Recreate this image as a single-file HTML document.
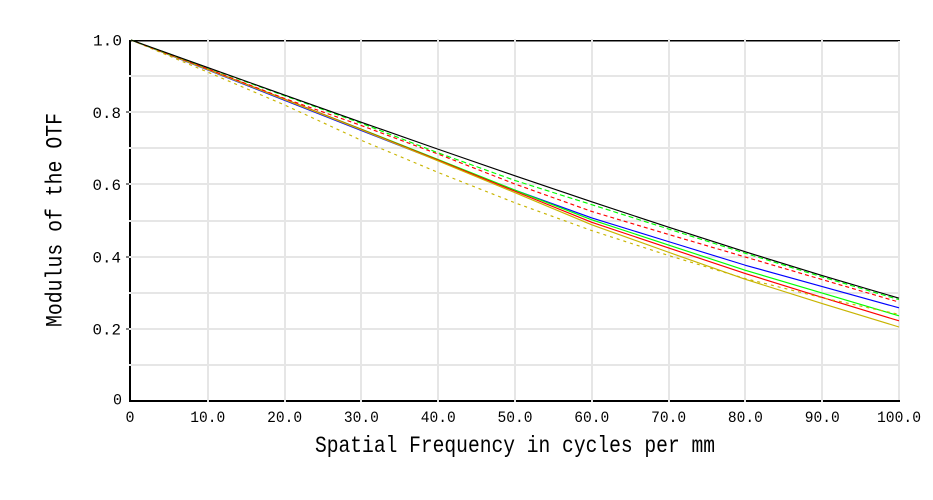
<!DOCTYPE html>
<html>
<head>
<meta charset="utf-8">
<style>
  html, body { margin: 0; padding: 0; background: #ffffff; }
  body { width: 933px; height: 500px; overflow: hidden; }
  svg { display: block; }
  text { font-family: "Liberation Mono", "DejaVu Sans Mono", monospace; fill: #000; }
</style>
</head>
<body>
<svg width="933" height="500" viewBox="0 0 933 500" xmlns="http://www.w3.org/2000/svg">
  <rect x="0" y="0" width="933" height="500" fill="#ffffff"/>

  <!-- axes -->
  <g shape-rendering="crispEdges">
    <line x1="130" y1="40" x2="130" y2="402" stroke="#000" stroke-width="2"/>
    <line x1="129" y1="401" x2="900" y2="401" stroke="#000" stroke-width="2"/>
    <line x1="129" y1="40.5" x2="900" y2="40.5" stroke="#000" stroke-width="1.5"/>
  </g>

  <!-- grid -->
  <g stroke="#e6e6e6" stroke-width="2" shape-rendering="crispEdges">
    <line x1="208" y1="39" x2="208" y2="402"/>
    <line x1="285" y1="39" x2="285" y2="402"/>
    <line x1="361" y1="39" x2="361" y2="402"/>
    <line x1="438" y1="39" x2="438" y2="402"/>
    <line x1="515" y1="39" x2="515" y2="402"/>
    <line x1="592" y1="39" x2="592" y2="402"/>
    <line x1="669" y1="39" x2="669" y2="402"/>
    <line x1="745" y1="39" x2="745" y2="402"/>
    <line x1="822" y1="39" x2="822" y2="402"/>
    <line x1="899" y1="41" x2="899" y2="400"/>
    <line x1="129" y1="365" x2="899" y2="365"/>
    <line x1="129" y1="329" x2="899" y2="329"/>
    <line x1="129" y1="293" x2="899" y2="293"/>
    <line x1="129" y1="257" x2="899" y2="257"/>
    <line x1="129" y1="221" x2="899" y2="221"/>
    <line x1="129" y1="184" x2="899" y2="184"/>
    <line x1="129" y1="148" x2="899" y2="148"/>
    <line x1="129" y1="112" x2="899" y2="112"/>
    <line x1="129" y1="76" x2="899" y2="76"/>
  </g>
  <g shape-rendering="crispEdges">
    <line x1="126" y1="112" x2="129" y2="112" stroke="#000" stroke-width="1"/>
    <line x1="126" y1="184" x2="129" y2="184" stroke="#000" stroke-width="1"/>
    <line x1="126" y1="257" x2="129" y2="257" stroke="#000" stroke-width="1"/>
    <line x1="126" y1="329" x2="129" y2="329" stroke="#000" stroke-width="1"/>
  </g>

  <!-- curves -->
  <g fill="none" stroke-width="1.15" stroke-linejoin="round">
    <!-- blue (T & S identical) -->
    <polyline stroke="#0000ff" points="131,40 207.8,69.96 284.6,100.29 361.4,130.61 438.2,160.57 515,190.18 591.8,217.97 668.6,241.62 745.4,265.26 822.2,286.56 899,307.86"/>
    <!-- green solid -->
    <polyline stroke="#00ff00" points="131,40 207.8,69.24 284.6,99.20 361.4,129.17 438.2,159.49 515,190.18 591.8,219.78 668.6,245.05 745.4,270.32 822.2,293.06 899,315.80"/>
    <!-- red solid -->
    <polyline stroke="#ff0000" points="131,40 207.8,69.24 284.6,99.20 361.4,129.53 438.2,160.21 515,191.26 591.8,222.30 668.6,247.94 745.4,273.57 822.2,297.39 899,320.86"/>
    <!-- yellow solid -->
    <polyline stroke="#c8b400" points="131,40 207.8,69.60 284.6,99.56 361.4,129.89 438.2,160.93 515,192.70 591.8,224.83 668.6,252.27 745.4,279.34 822.2,303.53 899,326.99"/>
    <!-- yellow dashed -->
    <polyline stroke="#c8b400" stroke-dasharray="3 4" points="131,40 207.8,72.13 284.6,104.98 361.4,140.36 438.2,172.49 515,202.81 591.8,230.61 668.6,255.52 745.4,278.62 822.2,297.75 899,314.36"/>
    <!-- red dashed -->
    <polyline stroke="#ff0000" stroke-dasharray="4 3" points="131,40 207.8,68.88 284.6,98.48 361.4,125.56 438.2,154.08 515,184.04 591.8,211.47 668.6,234.47 745.4,257.03 822.2,279.60 899,302.09"/>
    <!-- green dashed -->
    <polyline stroke="#00ff00" stroke-dasharray="5 3" points="131,40 207.8,67.91 284.6,95.74 361.4,123.35 438.2,152.85 515,180.50 591.8,204.69 668.6,229.02 745.4,253.28 822.2,276.96 899,299.63"/>
    <!-- black diffraction limit -->
    <polyline stroke="#000000" points="131,40 207.8,67.56 284.6,95.03 361.4,122.29 438.2,149.25 515,175.79 591.8,201.80 668.6,227.21 745.4,251.85 822.2,275.53 899,298.20"/>
  </g>

  <!-- y tick labels -->
  <g font-size="16" text-anchor="end">
    <text x="122" y="45.7" textLength="29" lengthAdjust="spacingAndGlyphs">1.0</text>
    <text x="121" y="118" textLength="28.5" lengthAdjust="spacingAndGlyphs">0.8</text>
    <text x="121" y="190" textLength="28.5" lengthAdjust="spacingAndGlyphs">0.6</text>
    <text x="121" y="262.5" textLength="28.5" lengthAdjust="spacingAndGlyphs">0.4</text>
    <text x="121" y="334.5" textLength="28.5" lengthAdjust="spacingAndGlyphs">0.2</text>
    <text x="122" y="404.3" textLength="9" lengthAdjust="spacingAndGlyphs">0</text>
  </g>

  <!-- x tick labels -->
  <g font-size="16" text-anchor="middle">
    <text x="130" y="422" textLength="9" lengthAdjust="spacingAndGlyphs">0</text>
    <text x="207.8" y="422" textLength="35" lengthAdjust="spacingAndGlyphs">10.0</text>
    <text x="284.6" y="422" textLength="35" lengthAdjust="spacingAndGlyphs">20.0</text>
    <text x="361.4" y="422" textLength="35" lengthAdjust="spacingAndGlyphs">30.0</text>
    <text x="438.2" y="422" textLength="35" lengthAdjust="spacingAndGlyphs">40.0</text>
    <text x="515" y="422" textLength="35" lengthAdjust="spacingAndGlyphs">50.0</text>
    <text x="591.8" y="422" textLength="35" lengthAdjust="spacingAndGlyphs">60.0</text>
    <text x="668.6" y="422" textLength="35" lengthAdjust="spacingAndGlyphs">70.0</text>
    <text x="745.4" y="422" textLength="35" lengthAdjust="spacingAndGlyphs">80.0</text>
    <text x="822.2" y="422" textLength="35" lengthAdjust="spacingAndGlyphs">90.0</text>
    <text x="899" y="422" textLength="44" lengthAdjust="spacingAndGlyphs">100.0</text>
  </g>

  <!-- axis titles -->
  <text x="515" y="452" font-size="23" text-anchor="middle" textLength="400" lengthAdjust="spacingAndGlyphs">Spatial Frequency in cycles per mm</text>
  <text x="0" y="0" font-size="23" text-anchor="middle" textLength="214" lengthAdjust="spacingAndGlyphs" transform="translate(61.5,220) rotate(-90)">Modulus of the OTF</text>
</svg>
</body>
</html>
